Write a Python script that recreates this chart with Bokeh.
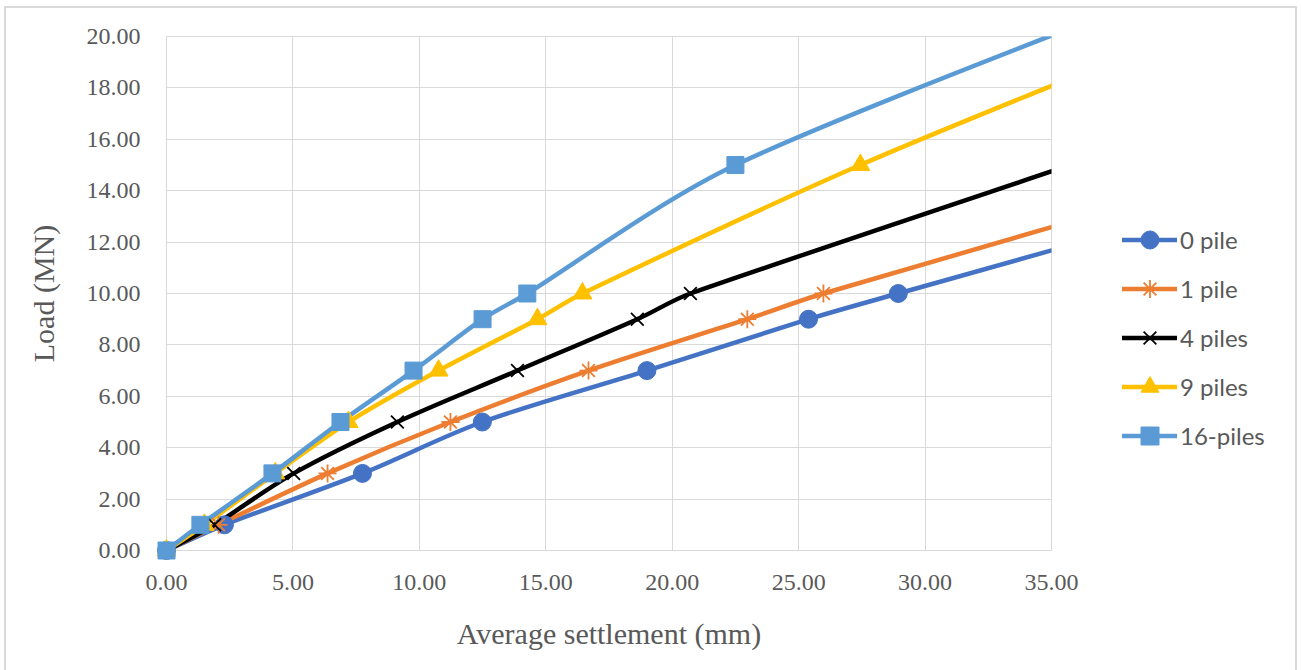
import numpy as np
from bokeh.plotting import figure
from bokeh.layouts import row
from bokeh.models import (Range1d, SingleIntervalTicker, NumeralTickFormatter,
                          Legend, LegendItem, ColumnDataSource)
from bokeh.embed import file_html
from bokeh.resources import INLINE

# ---- data ----
x_0pile = [0.0, 2.29, 7.75, 12.49, 19.00, 25.39, 28.94, 47.0]
y_0pile = [0.0, 1.0, 3.0, 5.0, 7.0, 9.0, 10.0, 15.0]

x_1pile = [0.0, 2.06, 6.37, 11.23, 16.69, 22.97, 25.98, 43.5]
y_1pile = [0.0, 1.0, 3.0, 5.0, 7.0, 9.0, 10.0, 15.0]

x_4piles = [0.0, 1.90, 5.03, 9.13, 13.88, 18.62, 20.72, 35.75]
y_4piles = [0.0, 1.0, 3.0, 5.0, 7.0, 9.0, 10.0, 15.0]

x_9piles = [0.0, 1.50, 4.30, 7.20, 10.76, 14.67, 16.45, 27.44, 39.85]
y_9piles = [0.0, 1.0, 3.0, 5.0, 7.0, 9.0, 10.0, 15.0, 20.0]

x_16piles = [0.0, 1.34, 4.19, 6.88, 9.77, 12.50, 14.27, 22.50, 40.1]
y_16piles = [0.0, 1.0, 3.0, 5.0, 7.0, 9.0, 10.0, 15.0, 22.0]

series_names = ["0 pile", "1 pile", "4 piles", "9 piles", "16-piles"]
series_x = [x_0pile, x_1pile, x_4piles, x_9piles, x_16piles]
series_y = [y_0pile, y_1pile, y_4piles, y_9piles, y_16piles]
colors = ["#4472C4", "#ED7D31", "#000000", "#FFC000", "#5B9BD5"]
markers = ["circle", "asterisk", "x", "triangle", "square"]
marker_sizes = [18, 18, 18, 19, 17]

X_MAX = 35
Y_MAX = 20
x_ticks_interval = 5
y_ticks_interval = 2

GRID = "#d9d9d9"
TXT = "#595959"
LINE_W = 4.5


def smooth_segments(xs, ys):
    """Bezier control points for a smoothed line (Catmull-Rom, clamped, like Excel)."""
    P = np.column_stack([xs, ys]).astype(float)
    n = len(P)
    d = {k: [] for k in ("x0", "y0", "x1", "y1", "cx0", "cy0", "cx1", "cy1")}
    for i in range(n - 1):
        p0 = P[max(i - 1, 0)]
        p1 = P[i]
        p2 = P[i + 1]
        p3 = P[min(i + 2, n - 1)]
        chord = np.hypot(*(p2 - p1))
        v1 = (p2 - p0) / 6.0
        v2 = (p3 - p1) / 6.0
        lim = chord / 3.0
        n1 = np.hypot(*v1)
        n2 = np.hypot(*v2)
        if n1 > lim:
            v1 = v1 * lim / n1
        if n2 > lim:
            v2 = v2 * lim / n2
        c1 = p1 + v1
        c2 = p2 - v2
        d["x0"].append(p1[0]); d["y0"].append(p1[1])
        d["x1"].append(p2[0]); d["y1"].append(p2[1])
        d["cx0"].append(c1[0]); d["cy0"].append(c1[1])
        d["cx1"].append(c2[0]); d["cy1"].append(c2[1])
    return d


MAIN_W = 1085
TOTAL_W = 1289
H = 662

p = figure(width=MAIN_W, height=H, output_backend="svg", toolbar_location=None,
           x_range=Range1d(0, X_MAX), y_range=Range1d(0, Y_MAX),
           min_border_left=160, min_border_right=MAIN_W - 160 - 885,
           min_border_top=28, min_border_bottom=120)

p.outline_line_color = GRID
p.background_fill_color = "white"
p.border_fill_color = "white"

p.xaxis.ticker = SingleIntervalTicker(interval=x_ticks_interval)
p.yaxis.ticker = SingleIntervalTicker(interval=y_ticks_interval)
p.xaxis.formatter = NumeralTickFormatter(format="0.00")
p.yaxis.formatter = NumeralTickFormatter(format="0.00")

for ax in (p.xaxis, p.yaxis):
    ax.major_tick_line_color = None
    ax.minor_tick_line_color = None
    ax.major_tick_out = 0
    ax.major_tick_in = 0
    ax.major_label_text_font = "Liberation Serif"
    ax.major_label_text_font_size = "24px"
    ax.major_label_text_color = TXT
    ax.axis_label_text_font = "Liberation Serif"
    ax.axis_label_text_font_size = "30px"
    ax.axis_label_text_font_style = "normal"
    ax.axis_label_text_color = TXT

p.xaxis.axis_line_color = GRID
p.yaxis.axis_line_color = None
p.xaxis.major_label_standoff = 20
p.yaxis.major_label_standoff = 22
p.xaxis.axis_label = "Average settlement (mm)"
p.yaxis.axis_label = "Load (MN)"
p.xaxis.axis_label_standoff = 24
p.yaxis.axis_label_standoff = 24

p.grid.grid_line_color = GRID
p.grid.grid_line_width = 1


def style_marker(fig, xs, ys, col, mk, ms, **kw):
    if mk in ("x", "asterisk"):
        return fig.scatter(xs, ys, marker=mk, size=ms, line_color=col,
                           line_width=1.8, **kw)
    return fig.scatter(xs, ys, marker=mk, size=ms, fill_color=col,
                       line_color=col, line_width=1, **kw)


for xs, ys, col, mk, ms in zip(series_x, series_y, colors, markers, marker_sizes):
    seg = ColumnDataSource(smooth_segments(xs, ys))
    p.bezier(x0="x0", y0="y0", x1="x1", y1="y1", cx0="cx0", cy0="cy0",
             cx1="cx1", cy1="cy1", source=seg, line_color=col,
             line_width=LINE_W, line_cap="round")

# markers of points inside the axes, drawn unclipped (like Excel) on top
for xs, ys, col, mk, ms in zip(series_x, series_y, colors, markers, marker_sizes):
    keep = [i for i, (xv, yv) in enumerate(zip(xs, ys)) if xv <= X_MAX and yv <= Y_MAX]
    style_marker(p, [xs[i] for i in keep], [ys[i] for i in keep], col, mk, ms,
                 level="overlay")

# ---- legend panel (separate figure so the legend is not clipped) ----
# Its view range lies away from the data so only the legend shows.
q = figure(width=TOTAL_W - MAIN_W, height=H, output_backend="svg",
           toolbar_location=None, x_range=Range1d(-3, -2), y_range=Range1d(-3, -2),
           min_border=0, min_border_left=0, min_border_right=0,
           min_border_top=0, min_border_bottom=0)
q.axis.visible = False
q.grid.visible = False
q.outline_line_color = None
q.background_fill_color = "white"
q.border_fill_color = "white"

items = []
for name, xs, ys, col, mk in zip(series_names, series_x, series_y, colors, markers):
    rl = q.line(xs, ys, line_color=col, line_width=LINE_W, line_cap="round")
    rm = style_marker(q, xs, ys, col, mk, 18)
    items.append(LegendItem(label=name, renderers=[rl, rm]))

legend = Legend(items=items, location=(31, 92), orientation="vertical",
                border_line_color=None, background_fill_alpha=0,
                padding=0, margin=0, spacing=4,
                glyph_width=55, glyph_height=45, label_height=45,
                label_standoff=3, label_text_font="Lato",
                label_text_font_size="24px", label_text_color=TXT)
q.add_layout(legend, "center")

layout = row(p, q)
layout.styles = {"border-left": "2px solid #d9d9d9",
                 "border-right": "2px solid #d9d9d9",
                 "border-top": "2px solid #d9d9d9",
                 "margin-left": "4px", "margin-top": "6px"}

open("out.html", "w").write(file_html(layout, INLINE))
